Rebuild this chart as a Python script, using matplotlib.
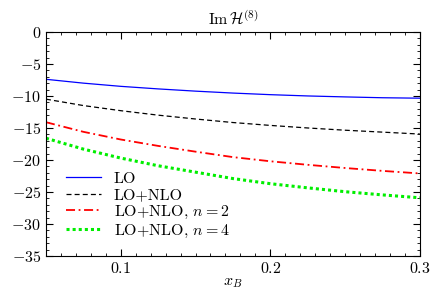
import numpy as np
import matplotlib
matplotlib.use("Agg")
import matplotlib.pyplot as plt
from matplotlib.ticker import MultipleLocator

plt.rcParams['font.family'] = 'serif'
plt.rcParams['font.serif'] = ['cmr10']
plt.rcParams['mathtext.fontset'] = 'cm'
plt.rcParams['axes.formatter.use_mathtext'] = True
plt.rcParams['font.size'] = 11.5

xB = [0.05, 0.075, 0.1, 0.125, 0.15, 0.175, 0.2, 0.225, 0.25, 0.275, 0.3]
lo = [-7.4, -8.0, -8.5, -8.9, -9.25, -9.55, -9.8, -10.0, -10.15, -10.28, -10.35]
lo_nlo = [-10.5, -11.5, -12.3, -13.0, -13.6, -14.15, -14.6, -15.0, -15.35, -15.65, -15.95]
lo_nlo_n2 = [-14.1, -15.6, -16.8, -17.8, -18.7, -19.55, -20.2, -20.75, -21.25, -21.7, -22.1]
lo_nlo_n4 = [-16.6, -18.3, -19.7, -20.9, -21.9, -22.9, -23.7, -24.35, -24.95, -25.45, -25.9]

fig = plt.figure(figsize=(4.42, 2.90), dpi=100)
ax = fig.add_axes([0.104, 0.117, 0.846, 0.773])

ax.plot(xB, lo, color="blue", lw=0.9, label="LO")
ax.plot(xB, lo_nlo, color="black", lw=0.9, ls=(0, (4, 2.5)), label="LO+NLO")
ax.plot(xB, lo_nlo_n2, color="red", lw=1.3, ls=(0, (5, 2, 1, 2)), label=r"LO+NLO, $n=2$")
ax.plot(xB, lo_nlo_n4, color="#00ee00", lw=2.2, ls=(0, (1, 1)), label=r"LO+NLO, $n=4$")

ax.set_xlim(0.05, 0.3)
ax.set_ylim(-35, 0)
ax.xaxis.set_major_locator(MultipleLocator(0.1))
ax.xaxis.set_minor_locator(MultipleLocator(0.01))
ax.yaxis.set_major_locator(MultipleLocator(5))
ax.yaxis.set_minor_locator(MultipleLocator(1))
ax.tick_params(which="both", direction="in", top=True, right=True)
ax.tick_params(which="major", length=5)
ax.tick_params(which="minor", length=2.5)

ax.set_title(r"$\mathrm{Im}\,\mathcal{H}^{(8)}$", fontsize=11.5, pad=6)
ax.set_xlabel(r"$x_B$", labelpad=0)
ax.legend(loc="lower left", frameon=False, bbox_to_anchor=(0.01, 0.0),
          handlelength=2.2, labelspacing=0.12, borderaxespad=0.6)

fig.savefig("out.png", dpi=100)
